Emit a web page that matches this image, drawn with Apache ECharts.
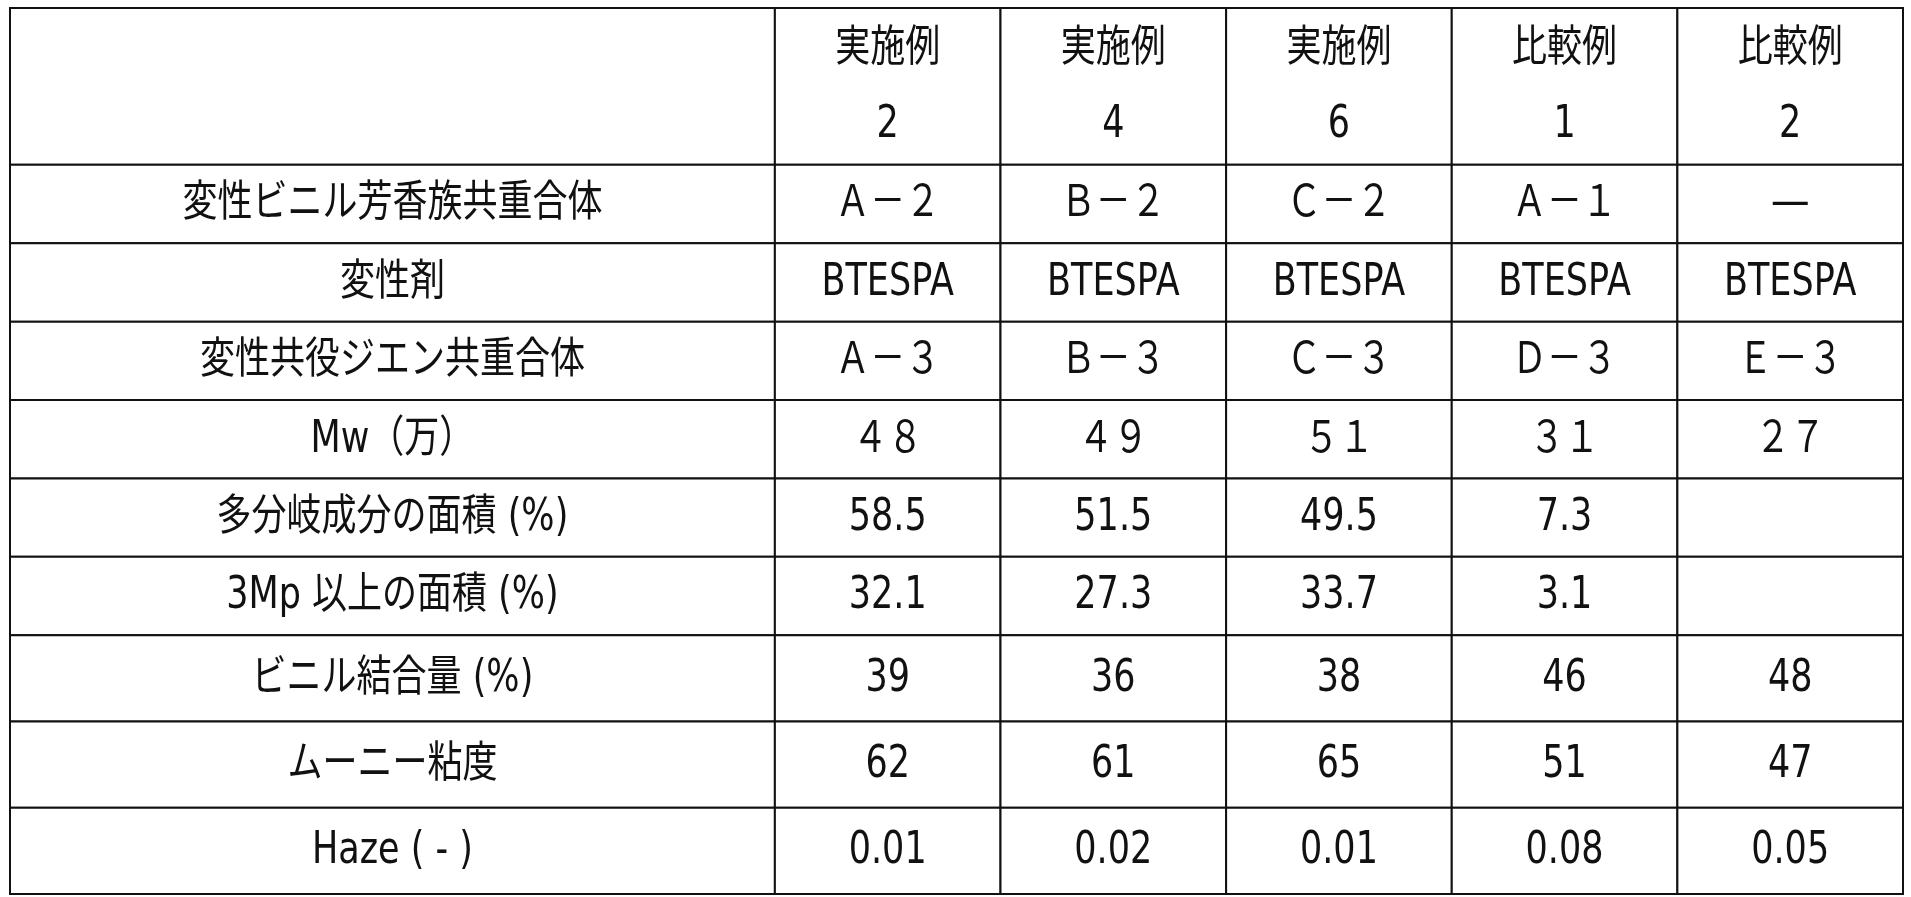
<!DOCTYPE html>
<html>
<head>
<meta charset="utf-8">
<script src="https://cdn.jsdelivr.net/npm/echarts@6/dist/echarts.min.js"></script>
<style>html,body{margin:0;padding:0;background:#fff}</style>
</head>
<body>
<div id="main" style="width:1911px;height:897px"></div>
<script>
// column headers (two lines each)
var headerTop = ['実施例', '実施例', '実施例', '比較例', '比較例'];
var headerNum = ['2', '4', '6', '1', '2'];
// row labels
var rowLabels = ['変性ビニル芳香族共重合体', '変性剤', '変性共役ジエン共重合体', 'Mw（万）',
  '多分岐成分の面積 (%)', '3Mp 以上の面積 (%)', 'ビニル結合量 (%)', 'ムーニー粘度', 'Haze ( - )'];
// values per row
var copolymer = ['Ａ－２', 'Ｂ－２', 'Ｃ－２', 'Ａ－１', '―'];
var modifier = ['BTESPA', 'BTESPA', 'BTESPA', 'BTESPA', 'BTESPA'];
var dieneCopolymer = ['Ａ－３', 'Ｂ－３', 'Ｃ－３', 'Ｄ－３', 'Ｅ－３'];
var mw = ['４８', '４９', '５１', '３１', '２７'];
var branchArea = ['58.5', '51.5', '49.5', '7.3', ''];
var area3Mp = ['32.1', '27.3', '33.7', '3.1', ''];
var vinyl = ['39', '36', '38', '46', '48'];
var mooney = ['62', '61', '65', '51', '47'];
var haze = ['0.01', '0.02', '0.01', '0.08', '0.05'];

var rows = [copolymer, modifier, dieneCopolymer, mw, branchArea, area3Mp, vinyl, mooney, haze];

// layout: relative heights of header + rows, width of label column
var FIRST_W = 3.39;
var rowH = [2, 1, 1, 1, 1, 1, 1, 1.1, 1.1, 1.1];
var rowStart = [0];
for (var i = 0; i < rowH.length; i++) rowStart.push(rowStart[i] + rowH[i]);
var nCols = headerTop.length;
var nRows = rows.length;

// cells: [col, row, text]  (col 0 = label column, row 0 = header)
var cells = [];
cells.push([0, 0, '']);
for (var c = 0; c < nCols; c++) cells.push([c + 1, 0, headerTop[c] + '\n' + headerNum[c]]);
for (var r = 0; r < nRows; r++) {
  cells.push([0, r + 1, rowLabels[r]]);
  for (var c2 = 0; c2 < nCols; c2++) cells.push([c2 + 1, r + 1, rows[r][c2]]);
}

var chart = echarts.init(document.getElementById('main'));
chart.setOption({
  animation: false,
  backgroundColor: '#fff',
  grid: { left: 10, right: 8, top: 8, bottom: 3 },
  xAxis: { type: 'value', min: 0, max: FIRST_W + nCols, show: false },
  yAxis: { type: 'value', min: 0, max: rowStart[rowH.length], inverse: true, show: false },
  series: [{
    type: 'custom',
    data: cells,
    renderItem: function (params, api) {
      var col = api.value(0), row = api.value(1);
      var x0 = col === 0 ? 0 : FIRST_W + col - 1;
      var x1 = col === 0 ? FIRST_W : FIRST_W + col;
      var p0 = api.coord([x0, rowStart[row]]);
      var p1 = api.coord([x1, rowStart[row + 1]]);
      var text = cells[params.dataIndex][2];
      return {
        type: 'group',
        children: [{
          type: 'rect',
          shape: { x: p0[0], y: p0[1], width: p1[0] - p0[0], height: p1[1] - p0[1] },
          style: { fill: '#fff', stroke: '#111', lineWidth: 2 }
        }, {
          type: 'text',
          x: (p0[0] + p1[0]) / 2,
          y: (p0[1] + p1[1]) / 2 + 1,
          scaleY: 1.25,
          style: {
            text: text,
            x: 0,
            y: 0,
            align: 'center',
            verticalAlign: 'middle',
            fontSize: 35,
            lineHeight: 61,
            fontFamily: '"DejaVu Sans", "Noto Sans CJK JP", sans-serif',
            fill: '#111'
          }
        }]
      };
    }
  }]
});
</script>
</body>
</html>
